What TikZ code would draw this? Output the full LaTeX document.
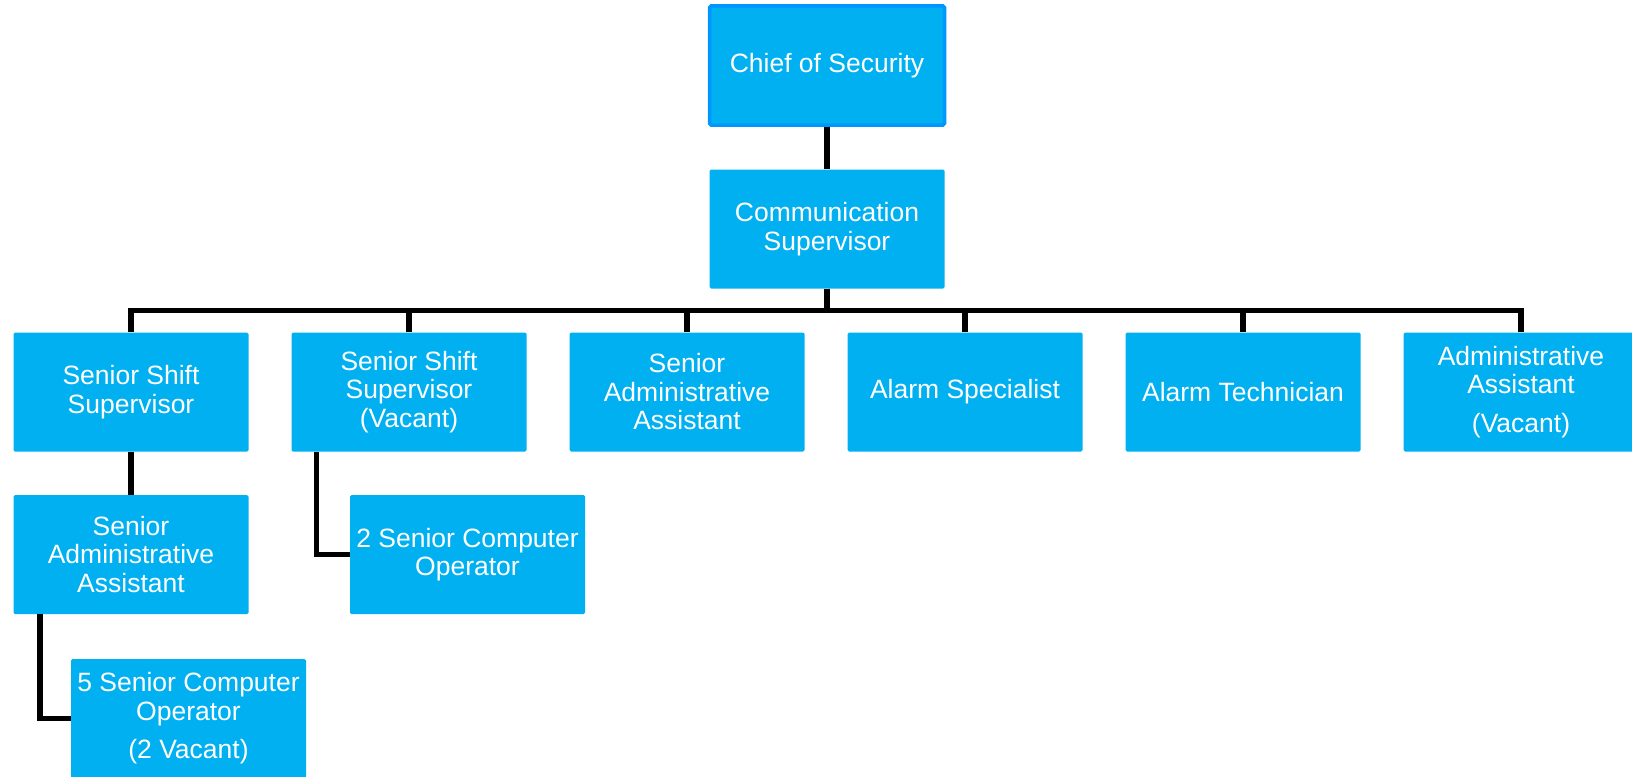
\documentclass[tikz,border=0pt]{standalone}
\usepackage{fontspec}
\setmainfont{Liberation Sans}
\definecolor{boxblue}{RGB}{0,176,240}
\definecolor{edgeblue}{RGB}{0,150,255}
\begin{document}
\begin{tikzpicture}[x=1pt,y=-1pt,
  unit/.style={fill=boxblue, draw=none, rounded corners=1.5pt,
    minimum width=235pt, minimum height=119pt, inner sep=2pt,
    align=center, text=white,
    font=\fontsize{26.5}{28.5}\selectfont},
  headunit/.style={unit, draw=edgeblue, line width=3.5pt},
  conn/.style={draw=black, line width=5.5pt, line join=miter}]
\useasboundingbox (0,0) rectangle (1632,776);

% top of the chain
\node[headunit] (chief) at (827,65.5) {Chief of Security};
\node[unit] (comm) at (827,229) {Communication\\Supervisor};

% direct reports of the communication supervisor
\node[unit] (ssa)    at (131,392)  {Senior Shift\\Supervisor};
\node[unit] (ssb)    at (409,392)  {Senior Shift\\Supervisor\\(Vacant)};
\node[unit] (sadm)   at (687,392)  {Senior\\Administrative\\Assistant};
\node[unit] (alsp)   at (965,392)  {Alarm Specialist};
\node[unit] (altech) at (1243,392) {Alarm Technician};
\node[unit] (adm)    at (1521,392) {Administrative\\Assistant\\[10pt](Vacant)};

% lower levels
\node[unit] (sadm2) at (131,554.5)   {Senior\\Administrative\\Assistant};
\node[unit] (op2)   at (467.5,554.5) {2 Senior Computer\\Operator};
\node[unit] (op5)   at (188.5,718.5) {5 Senior Computer\\Operator\\[10pt](2 Vacant)};

% connectors
\draw[conn] (chief.south) -- (comm.north);
\coordinate (bus) at ([yshift=-22pt]comm.south);
\draw[conn] (comm.south) -- (bus);
\foreach \n in {ssa,ssb,sadm,alsp,altech,adm}
  \draw[conn] (\n.north) |- (bus);
\draw[conn] (ssa.south) -- (sadm2.north);
\draw[conn] ([xshift=25pt]ssb.south west) |- (op2.west);
\draw[conn] ([xshift=26.5pt]sadm2.south west) |- (op5.west);
\end{tikzpicture}
\end{document}
